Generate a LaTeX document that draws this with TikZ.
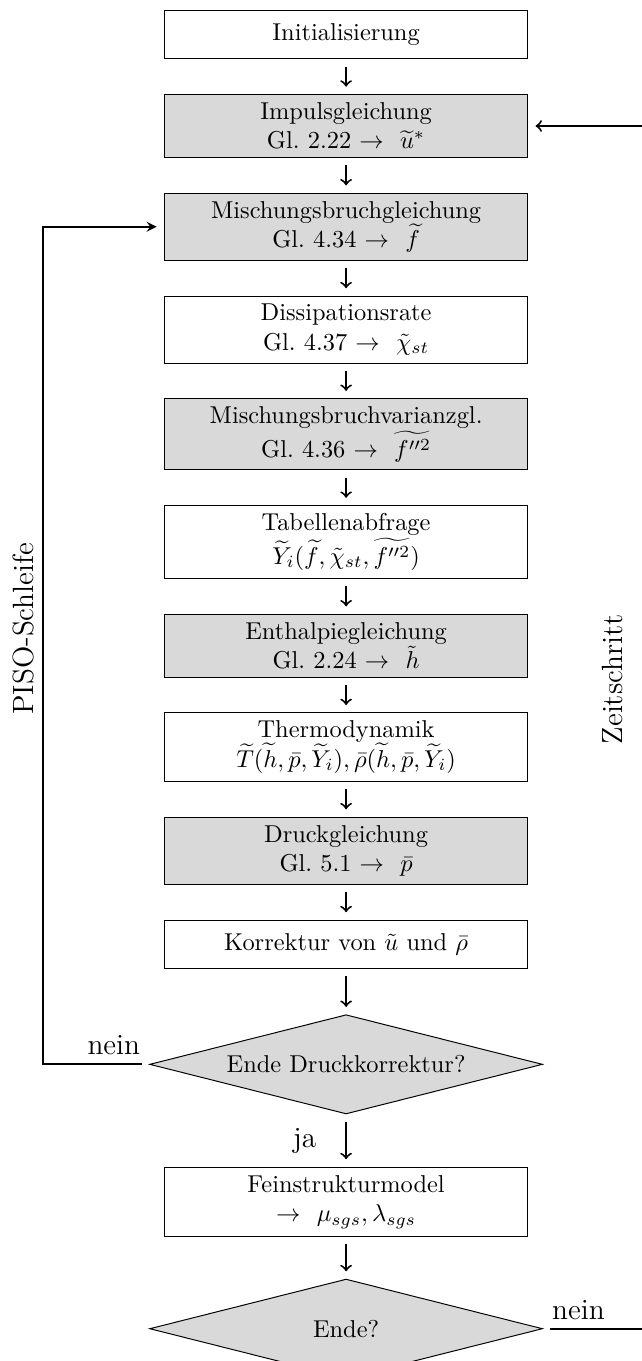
\documentclass[tikz,border=0pt]{standalone}
\usepackage{amsmath,amssymb}
\usepackage{tikz}
\usetikzlibrary{shapes.geometric, positioning, arrows}

\tikzset{
  box/.style={draw, rectangle, text width=5cm, align=center, minimum height=0.7cm},
  grau/.style={box, fill=gray!30},
  frage/.style={draw, diamond, aspect=4, fill=gray!30, minimum width=5.66cm, minimum height=1.43cm, align=center},
  pfeil/.style={->, thick, shorten >=3pt, shorten <=3pt},
  marke/.style={font=\large}
}

\begin{document}
\begin{tikzpicture}
				\useasboundingbox (-4.986,0.497) rectangle (4.251,-19.11);
				\node[box] (init) {Initialisierung};
				\node[grau, below=0.5cm of init] (impuls) {Impulsgleichung\\ Gl.~2.22 $\rightarrow$ ~$\widetilde{u}^*$};
				\node[grau, below=0.5cm of impuls] (misch) {Mischungsbruchgleichung\\ Gl.~4.34 $\rightarrow$ ~$\widetilde{f}$};
				\node[box, below=0.5cm of misch] (diss) {Dissipationsrate\\ Gl.~4.37 $\rightarrow$ ~$\tilde{\chi}_{st}$};
				\node[grau, below=0.5cm of diss] (varianz) {Mischungsbruchvarianzgl.\\ Gl.~4.36 $\rightarrow$ ~$\widetilde{f''^2}$};
				\node[box, below=0.5cm of varianz] (tab) {Tabellenabfrage\\ $\widetilde{Y}_i(\widetilde{f},\tilde{\chi}_{st},\widetilde{f''^2})$};
				\node[grau, below=0.5cm of tab] (enth) {Enthalpiegleichung\\ Gl.~2.24 $\rightarrow$ ~$\tilde{h}$};
				\node[box, below=0.5cm of enth] (thermo) {Thermodynamik\\ $\widetilde{T}(\widetilde{h},\bar{p},\widetilde{Y}_i),\bar{\rho}(\widetilde{h},\bar{p},\widetilde{Y}_i)$};
				\node[grau, below=0.5cm of thermo] (druck) {Druckgleichung\\ Gl.~5.1 $\rightarrow$ ~$\bar{p}$};
				\node[box, below=0.5cm of druck] (korr) {Korrektur von $\tilde{u}$ und $\bar{\rho}$};
				\node[frage, below=0.65cm of korr] (ende1) {Ende Druckkorrektur?};
				\node[box, below=0.75cm of ende1] (fein) {Feinstrukturmodel\\ $\rightarrow$ ~$\mu_{sgs},\lambda_{sgs}$};
				\node[frage, below=0.6cm of fein] (ende2) {Ende?};
				\coordinate (links) at (-4.366,0);
				\coordinate (rechts) at (4.31,0);
				\draw (init) edge[pfeil] (impuls)
						(impuls) edge[pfeil] (misch)
						(misch) edge[pfeil] (diss)
						(diss) edge[pfeil] (varianz)
						(varianz) edge[pfeil] (tab)
						(tab) edge[pfeil] (enth)
						(enth) edge[pfeil] (thermo)
						(thermo) edge[pfeil] (druck)
						(druck) edge[pfeil] (korr)
						(korr) edge[pfeil] (ende1)
						(ende1) edge[pfeil] node[marke, left=3mm] {ja} (fein)
						(fein) edge[pfeil] (ende2);
				% PISO-Schleife
				\draw[pfeil, -stealth] (ende1.west) node[marke, above left] {nein} -- (ende1.west -| links)
						-- node[marke, pos=0.52, above, rotate=90] {PISO-Schleife} (misch.west -| links) -- (misch.west);
				% Zeitschritt
				\draw[pfeil] (ende2.east) node[marke, above right] {nein} -- (ende2.east -| rechts)
						-- node[marke, pos=0.54, above, rotate=90, inner sep=9pt] {Zeitschritt} (impuls.east -| rechts) -- (impuls.east);
			\end{tikzpicture}
\end{document}
